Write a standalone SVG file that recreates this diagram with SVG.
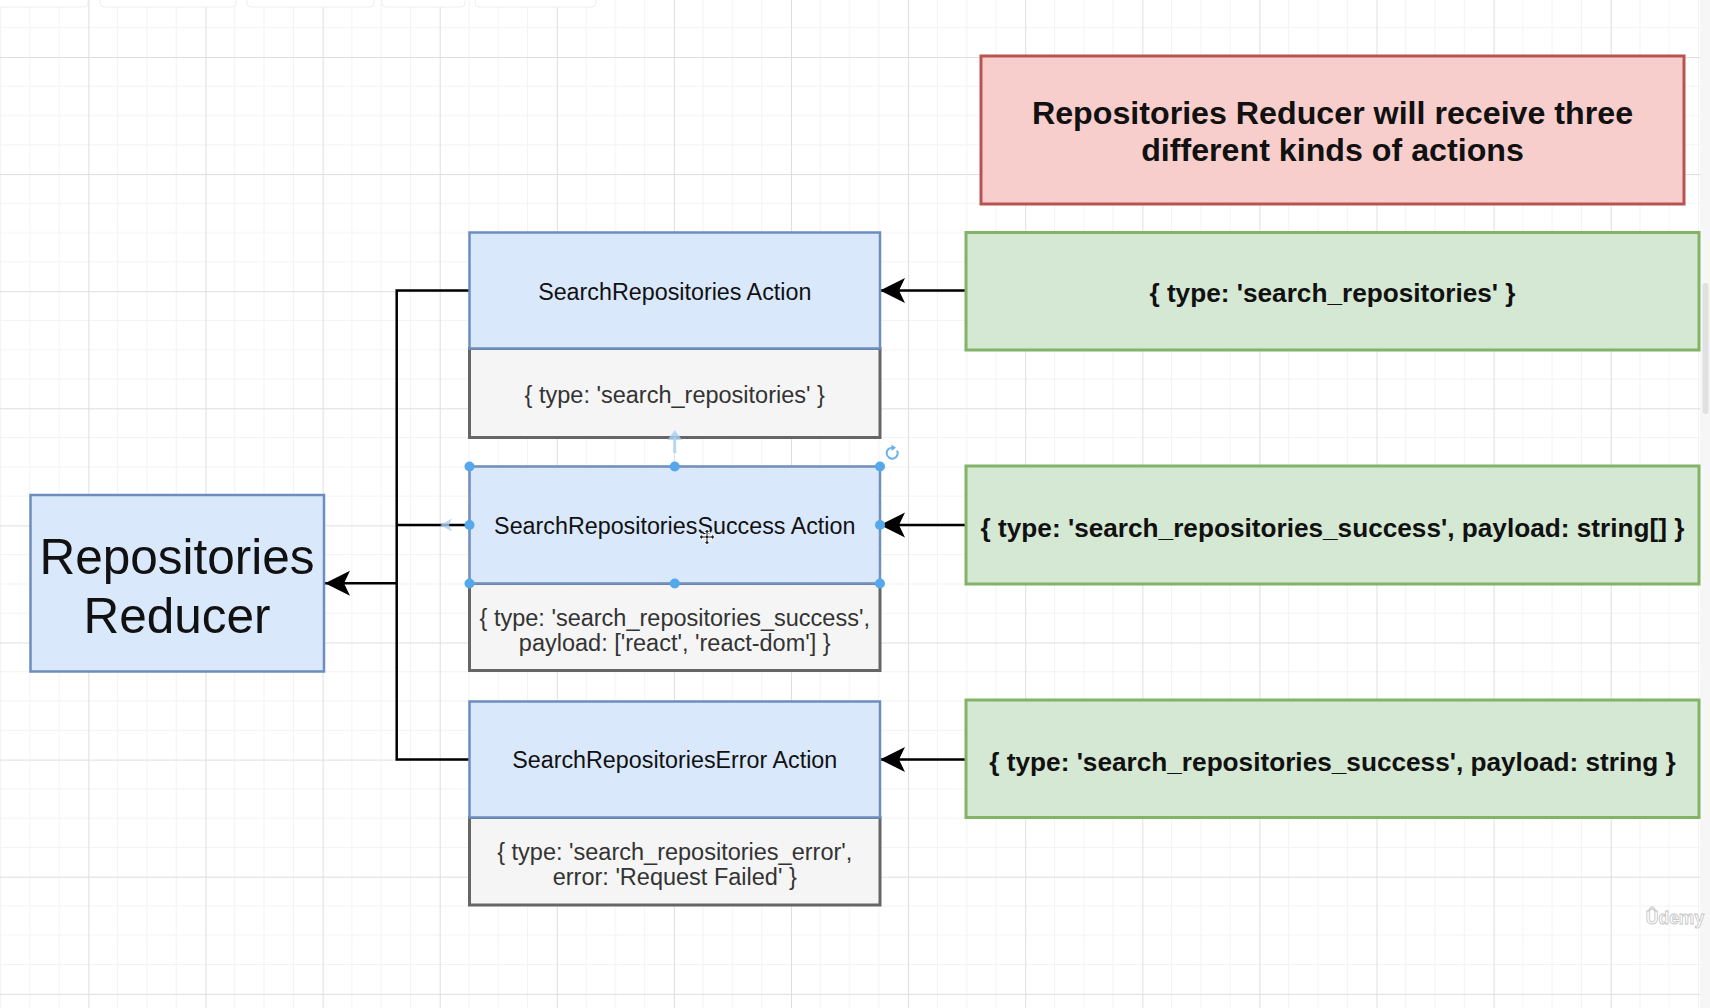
<svg xmlns="http://www.w3.org/2000/svg" width="1710" height="1008" viewBox="0 0 1710 1008">
  <style>
    .blue { fill: #dae8fc; stroke: #6c8ebf; stroke-width: 2.5; }
    .gray { fill: #f5f5f5; stroke: #666666; stroke-width: 3; }
    .green { fill: #d5e8d4; stroke: #82b366; stroke-width: 3; }
    .red { fill: #f8cecc; stroke: #b85450; stroke-width: 3; }
    .title { font-family: "Liberation Sans", Arial, Helvetica, sans-serif; font-size: 23.3px; fill: #111111; text-anchor: middle; dominant-baseline: central; }
    .body { font-family: "Liberation Sans", Arial, Helvetica, sans-serif; font-size: 23.5px; fill: #333333; text-anchor: middle; dominant-baseline: central; }
    .bold { font-family: "Liberation Sans", Arial, Helvetica, sans-serif; font-size: 26.2px; font-weight: bold; fill: #111111; text-anchor: middle; dominant-baseline: central; }
    .note { font-family: "Liberation Sans", Arial, Helvetica, sans-serif; font-size: 32.2px; font-weight: bold; fill: #111111; text-anchor: middle; dominant-baseline: central; }
    .big { font-family: "Liberation Sans", Arial, Helvetica, sans-serif; font-size: 49.5px; fill: #111111; text-anchor: middle; dominant-baseline: central; }
    .wire { fill: none; stroke: #000000; stroke-width: 2.5; }
    .handle { fill: #55a8ec; }
  </style>
  <defs>
    <pattern id="grid" patternUnits="userSpaceOnUse" x="88.4" y="57" width="117.1" height="117.1">
      <path d="M29.275 0V117.1M58.55 0V117.1M87.825 0V117.1M0 29.275H117.1M0 58.55H117.1M0 87.825H117.1" stroke="#f3f3f3" stroke-width="1" fill="none"/>
      <path d="M0.5 0V117.1M0 0.5H117.1" stroke="#dedede" stroke-width="1" fill="none"/>
    </pattern>
    <marker id="arrow" viewBox="0 0 26 26" refX="25" refY="13" markerWidth="26" markerHeight="26" markerUnits="userSpaceOnUse" orient="auto">
      <path d="M25 13 L0 0.5 L6 13 L0 25.5 Z" fill="#000000"/>
    </marker>
  </defs>

  <!-- canvas -->
  <rect width="1710" height="1008" fill="#ffffff"/>
  <rect width="1710" height="1008" fill="url(#grid)"/>

  <!-- editor chrome: toolbar edge, scrollbar -->
  <g id="chrome" fill="#ffffff" stroke="#eeeeee" stroke-width="1">
    <rect x="-4" y="-6" width="92" height="13" rx="4"/>
    <rect x="100" y="-6" width="136" height="13" rx="4"/>
    <rect x="247" y="-6" width="127" height="13" rx="4"/>
    <rect x="382" y="-6" width="83" height="13" rx="4"/>
    <rect x="475" y="-6" width="121" height="13" rx="4"/>
    <rect x="1700" y="0" width="10" height="1008" fill="#f6f6f6" stroke="none"/>
    <rect x="1702.5" y="283" width="6" height="131" rx="3" fill="#e0e0e0" stroke="none"/>
  </g>

  <!-- connectors -->
  <g id="connectors">
    <path class="wire" d="M469.5 290.5H396.7V759.5H469.5"/>
    <path class="wire" d="M396.7 525H469.5"/>
    <path class="wire" d="M396.7 583.3H325" marker-end="url(#arrow)"/>
    <path class="wire" d="M966 290.5H880" marker-end="url(#arrow)"/>
    <path class="wire" d="M966 525H880" marker-end="url(#arrow)"/>
    <path class="wire" d="M966 759.5H880" marker-end="url(#arrow)"/>
  </g>

  <!-- reducer -->
  <g id="reducer">
    <rect class="blue" x="30.5" y="495" width="293.5" height="176.5"/>
    <text class="big" x="177" y="556">Repositories</text>
    <text class="big" x="177" y="615">Reducer</text>
  </g>

  <!-- note -->
  <g id="note">
    <rect class="red" x="981" y="56" width="703" height="148"/>
    <text class="note" x="1332.5" y="113">Repositories Reducer will receive three</text>
    <text class="note" x="1332.5" y="150">different kinds of actions</text>
  </g>

  <!-- action classes -->
  <g id="search-action">
    <rect class="gray" x="469.5" y="348.5" width="410.5" height="89"/>
    <rect class="blue" x="469.5" y="232.5" width="410.5" height="116"/>
    <text class="title" x="674.75" y="291.5">SearchRepositories Action</text>
    <text class="body" x="674.75" y="395">{ type: 'search_repositories' }</text>
  </g>

  <g id="success-action">
    <rect class="gray" x="469.5" y="583.5" width="410.5" height="87"/>
    <rect class="blue" x="469.5" y="466.5" width="410.5" height="117"/>
    <text class="title" x="674.75" y="526">SearchRepositoriesSuccess Action</text>
    <text class="body" x="674.75" y="617.5">{ type: 'search_repositories_success',</text>
    <text class="body" x="674.75" y="643">payload: ['react', 'react-dom'] }</text>
  </g>

  <g id="error-action">
    <rect class="gray" x="469.5" y="817.5" width="410.5" height="87.5"/>
    <rect class="blue" x="469.5" y="701.5" width="410.5" height="116"/>
    <text class="title" x="674.75" y="760">SearchRepositoriesError Action</text>
    <text class="body" x="674.75" y="851.5">{ type: 'search_repositories_error',</text>
    <text class="body" x="674.75" y="877">error: 'Request Failed' }</text>
  </g>

  <!-- action shapes -->
  <g id="search-shape">
    <rect class="green" x="966" y="232.5" width="733" height="117.5"/>
    <text class="bold" x="1332.5" y="293">{ type: 'search_repositories' }</text>
  </g>
  <g id="success-shape">
    <rect class="green" x="966" y="466" width="733" height="118"/>
    <text class="bold" x="1332.5" y="528">{ type: 'search_repositories_success', payload: string[] }</text>
  </g>
  <g id="error-shape">
    <rect class="green" x="966" y="700" width="733" height="117.5"/>
    <text class="bold" x="1332.5" y="761.5">{ type: 'search_repositories_success', payload: string }</text>
  </g>

  <!-- selection state on the success action -->
  <g id="selection">
    <rect x="469.5" y="466.5" width="410.5" height="117" fill="none" stroke="#7d93b3" stroke-width="1.5" stroke-dasharray="4 3"/>
    <path d="M674.75 453V437" stroke="#a9d0f2" stroke-width="3" opacity="0.8"/>
    <path d="M667.5 440L674.75 430L682 440Z" fill="#a9d0f2" opacity="0.8"/>
    <path d="M452 518.5L440 525L452 531.5L449 525Z" fill="#a9d0f2" opacity="0.8"/>
    <circle class="handle" cx="469.5" cy="466.5" r="5"/>
    <circle class="handle" cx="674.75" cy="466.5" r="5"/>
    <circle class="handle" cx="880" cy="466.5" r="5"/>
    <circle class="handle" cx="469.5" cy="525" r="5"/>
    <circle class="handle" cx="880" cy="525" r="5"/>
    <circle class="handle" cx="469.5" cy="583.5" r="5"/>
    <circle class="handle" cx="674.75" cy="583.5" r="5"/>
    <circle class="handle" cx="880" cy="583.5" r="5"/>
    <path d="M897 450.5A5.5 5.5 0 1 1 893 447.7" fill="none" stroke="#6cb3ee" stroke-width="2"/>
    <path d="M891.5 444.5L896 447.8L891.5 451Z" fill="#6cb3ee"/>
    <!-- move cursor -->
    <g transform="translate(707 537)" stroke="#ffffff" stroke-width="1" fill="#222222">
      <path d="M0 -8L3 -4.5H1V-1H4.5V-3L8 0L4.5 3V1H1V4.5H3L0 8L-3 4.5H-1V1H-4.5V3L-8 0L-4.5 -3V-1H-1V-4.5H-3Z"/>
    </g>
  </g>

  <!-- watermark -->
  <text x="1675" y="918" font-family="'Liberation Sans', Arial, sans-serif" font-size="17.5" font-weight="bold" text-anchor="middle" dominant-baseline="central" fill="#ffffff" stroke="#c4c4c4" stroke-width="0.8">Ûdemy</text>
</svg>
